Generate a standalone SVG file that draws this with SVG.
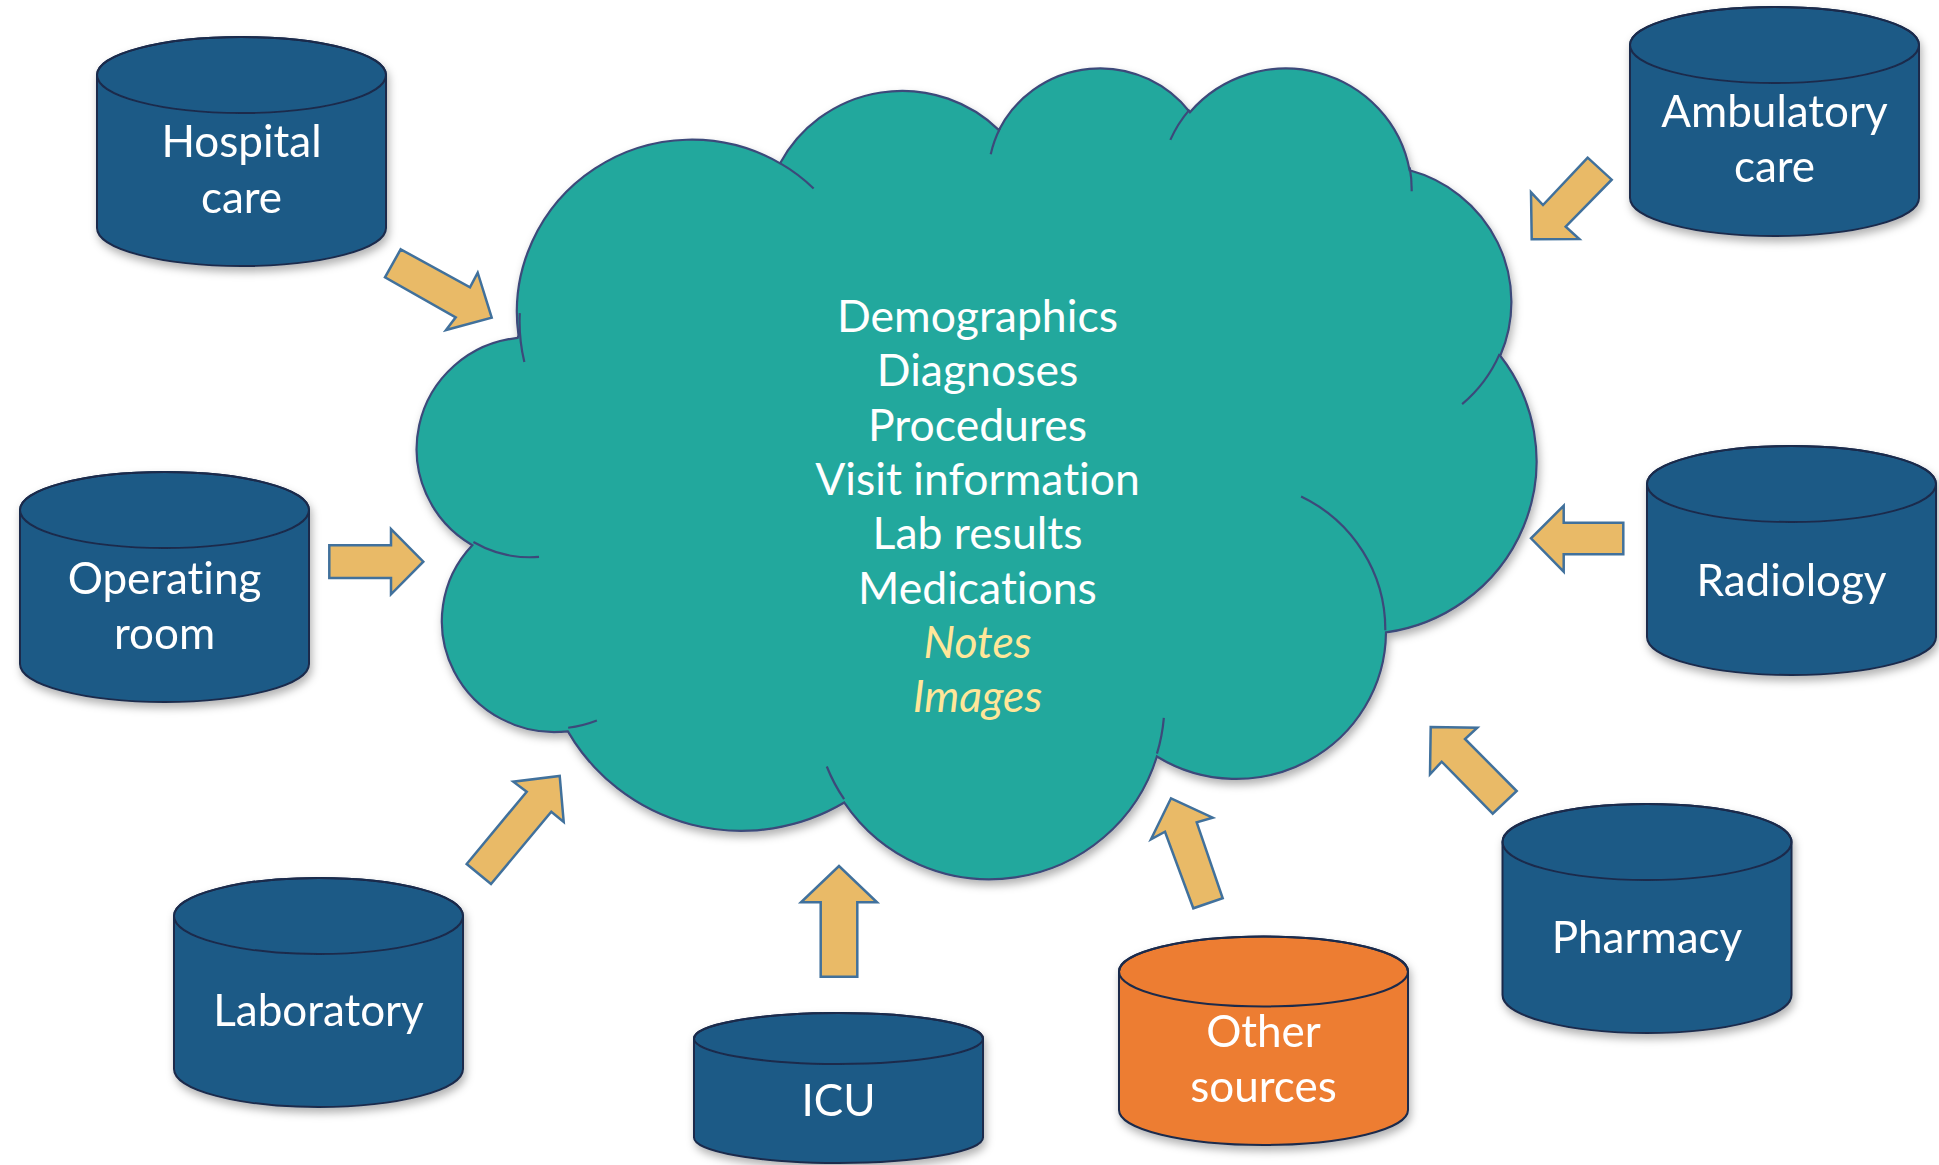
<svg xmlns="http://www.w3.org/2000/svg" width="1939" height="1165" viewBox="0 0 1939 1165">
<style>
.cyl{fill:#1F5A86;stroke:#1A2B4C;stroke-width:2}
.cyl.orange{fill:#ED7D31}
.lid{fill:none;stroke:#1A2B4C;stroke-width:2}
.arrow{fill:#E9BA67;stroke:#41719C;stroke-width:2.5;stroke-linejoin:miter}
.lbl{font-family:Lato,"Open Sans","Noto Sans",sans-serif;font-size:44px;fill:#FFFFFF;text-anchor:middle;font-variant-ligatures:none}
.ctext{font-family:Lato,"Open Sans","Noto Sans",sans-serif;font-size:44.5px;fill:#FFFFFF;text-anchor:middle;font-variant-ligatures:none}
.ctext.hl{fill:#FFE699;font-style:italic}
.cloud{fill:#22A89D;stroke:#3C4A7A;stroke-width:2.2}
.cloudin{fill:none;stroke:#3C4A7A;stroke-width:2.2}
</style>
<defs>
<filter id="shadow" x="-10%" y="-10%" width="125%" height="130%">
<feDropShadow dx="2" dy="5" stdDeviation="4" flood-color="#000000" flood-opacity="0.3"/>
</filter>
</defs>
<rect width="1939" height="1165" fill="#FFFFFF"/>

<g id="cloud" filter="url(#shadow)">
<g transform="translate(417.5,65.7) scale(0.02589,0.018765)">
<path class="cloud" vector-effect="non-scaling-stroke" d="M3900 14370 A6753 9190 0 0 1 14006.1 5202.8 A5333 7267 0 0 1 22458.3 3431.6 A4365 5945 0 0 1 29835.1 2479.5 A4857 6595 0 0 1 38320.3 5574.7 A5333 7273 0 0 1 41820.7 15458.5 A6775 9220 0 0 1 37407.2 30202.8 A5785 7867 0 0 1 28558.8 36813 A6752 9215 0 0 1 16485 39268.1 A7720 10543 0 0 1 5808.7 35472.7 A4360 5918 0 0 1 2116.1 25552.8 A4345 5945 0 0 1 3866.6 14509.2 Z"/>
<path class="cloudin" vector-effect="non-scaling-stroke" d="M4693 26177 A4345 5945 0 0 1 2159.6 25379.9 M6928 34899 A4360 5918 0 0 1 5819.4 35280.5 M16478 39090 A6752 9215 0 0 1 15808.3 37345.9 M28827 34751 A6752 9215 0 0 1 28560.6 36659.8 M34129 22954 A5785 7867 0 0 1 37380.5 30089.7 M41798 15354 A5333 7273 0 0 1 40348.4 18031.5 M38324 5426 A4857 6595 0 0 1 38400.4 6689.6 M29078 3952 A4857 6595 0 0 1 29819.8 2339.8 M22141 4720 A4365 5945 0 0 1 22500 3330.5 M14000 5192 A6753 9190 0 0 1 15299.9 6541 M4127 15789 A6753 9190 0 0 1 3952 13186.8"/>
</g>
</g>
<g id="cloud-text">
<text class="ctext" x="977.5" y="332">Demographics</text>
<text class="ctext" x="977.5" y="386.3">Diagnoses</text>
<text class="ctext" x="977.5" y="440.6">Procedures</text>
<text class="ctext" x="977.5" y="494.9">Visit information</text>
<text class="ctext" x="977.5" y="549.2">Lab results</text>
<text class="ctext" x="977.5" y="603.5">Medications</text>
<text class="ctext hl" x="977.5" y="657.8">Notes</text>
<text class="ctext hl" x="977.5" y="712.1">Images</text>
</g>

<g id="hospital-care" filter="url(#shadow)">
<path class="cyl" d="M97,75 L97,228 A144.5,38 0 0 0 386,228 L386,75 A144.5,38 0 0 0 97,75 Z"/>
<ellipse class="lid" cx="241.5" cy="75" rx="144.5" ry="38"/>
<text class="lbl" x="241.5" y="157">Hospital</text>
<text class="lbl" x="241.5" y="213">care</text>
</g>

<g id="ambulatory-care" filter="url(#shadow)">
<path class="cyl" d="M1630,45 L1630,198 A144.5,38 0 0 0 1919,198 L1919,45 A144.5,38 0 0 0 1630,45 Z"/>
<ellipse class="lid" cx="1774.5" cy="45" rx="144.5" ry="38"/>
<text class="lbl" x="1774.5" y="127">Ambulatory</text>
<text class="lbl" x="1774.5" y="182">care</text>
</g>

<g id="operating-room" filter="url(#shadow)">
<path class="cyl" d="M20,510 L20,664 A144.5,38 0 0 0 309,664 L309,510 A144.5,38 0 0 0 20,510 Z"/>
<ellipse class="lid" cx="164.5" cy="510" rx="144.5" ry="38"/>
<text class="lbl" x="164.5" y="594">Operating</text>
<text class="lbl" x="164.5" y="649">room</text>
</g>

<g id="radiology" filter="url(#shadow)">
<path class="cyl" d="M1647,484 L1647,637 A144.5,38 0 0 0 1936,637 L1936,484 A144.5,38 0 0 0 1647,484 Z"/>
<ellipse class="lid" cx="1791.5" cy="484" rx="144.5" ry="38"/>
<text class="lbl" x="1791.5" y="596">Radiology</text>
</g>

<g id="laboratory" filter="url(#shadow)">
<path class="cyl" d="M174,916 L174,1069 A144.5,38 0 0 0 463,1069 L463,916 A144.5,38 0 0 0 174,916 Z"/>
<ellipse class="lid" cx="318.5" cy="916" rx="144.5" ry="38"/>
<text class="lbl" x="318.5" y="1026">Laboratory</text>
</g>

<g id="pharmacy" filter="url(#shadow)">
<path class="cyl" d="M1502.5,842 L1502.5,995 A144.5,38 0 0 0 1791.5,995 L1791.5,842 A144.5,38 0 0 0 1502.5,842 Z"/>
<ellipse class="lid" cx="1647" cy="842" rx="144.5" ry="38"/>
<text class="lbl" x="1647" y="953">Pharmacy</text>
</g>

<g id="other-sources" filter="url(#shadow)">
<path class="cyl orange" d="M1119,971.5 L1119,1110 A144.5,35 0 0 0 1408,1110 L1408,971.5 A144.5,35 0 0 0 1119,971.5 Z"/>
<ellipse class="lid" cx="1263.5" cy="971.5" rx="144.5" ry="35"/>
<text class="lbl" x="1263.5" y="1047">Other</text>
<text class="lbl" x="1263.5" y="1102">sources</text>
</g>

<g id="icu" filter="url(#shadow)">
<path class="cyl" d="M694,1038.5 L694,1137.5 A144.5,25.5 0 0 0 983,1137.5 L983,1038.5 A144.5,25.5 0 0 0 694,1038.5 Z"/>
<ellipse class="lid" cx="838.5" cy="1038.5" rx="144.5" ry="25.5"/>
<text class="lbl" x="838.5" y="1116">ICU</text>
</g>

<g id="connectors">
<polygon class="arrow" points="400.7,249.3 470,287.3 477.7,272.7 491.7,317.7 446,330 455.7,317.3 385,277.3"/>
<polygon class="arrow" points="329.3,545.3 391,545.3 391,529 423.3,561.7 391,594.3 391,578 329.3,578"/>
<polygon class="arrow" points="466.7,864 526.7,791.7 513.3,781.7 559.7,776 563.7,822 551.3,811.7 491,884"/>
<polygon class="arrow" points="820.7,976.7 820.7,902.3 801,902.3 839,866 877,902.3 857.3,902.3 857.3,976.7"/>
<polygon class="arrow" points="1193.3,908.3 1165,831.7 1151,839.3 1171,798.3 1212.7,817.7 1196.7,822.3 1222.7,898.3"/>
<polygon class="arrow" points="1492.7,813.7 1441.7,761.7 1430,774.3 1430.7,727 1477.3,727.7 1465,739 1516.7,791"/>
<polygon class="arrow" points="1623.3,522.7 1563.7,522.7 1563.7,505.7 1531,538.3 1563.7,571.7 1563.7,554.3 1623.3,554.3"/>
<polygon class="arrow" points="1587.7,157.7 1543,205 1531,192.3 1531.7,239.3 1579.3,239 1565.7,226.7 1611.7,179.7"/>
</g>
</svg>
